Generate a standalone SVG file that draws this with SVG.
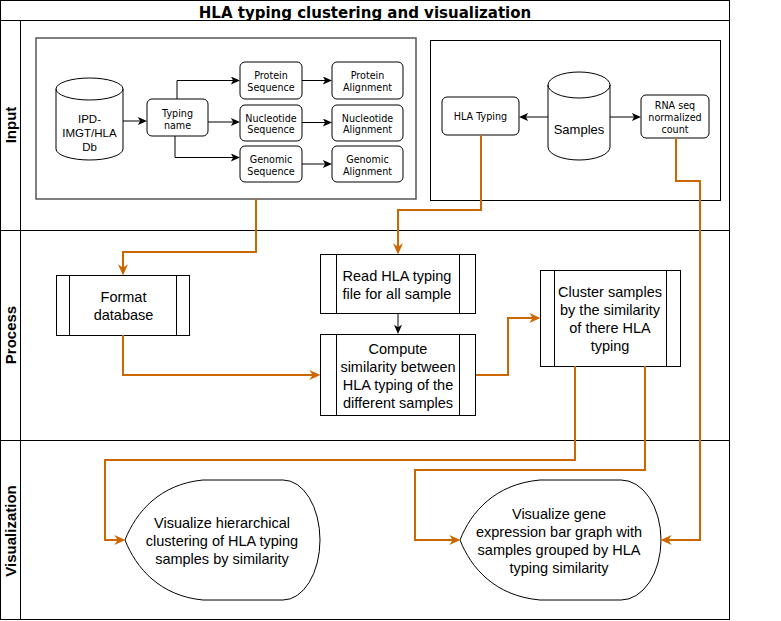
<svg xmlns="http://www.w3.org/2000/svg" width="781" height="621" viewBox="0 0 781 621">
<style>
.frame{fill:none;stroke:#000;stroke-width:1}
.box{fill:#fff;stroke:#000;stroke-width:1}
.sm{font-family:"DejaVu Sans",Verdana,sans-serif;font-size:9.6px;fill:#000;text-anchor:middle}
.md{font-family:"Liberation Sans",Arial,sans-serif;font-size:11.5px;fill:#000;text-anchor:middle}
.lg{font-family:"Liberation Sans",Arial,sans-serif;font-size:14.5px;fill:#000;text-anchor:middle}
.lane{font-family:"Liberation Sans",Arial,sans-serif;font-size:15px;font-weight:bold;fill:#000;text-anchor:middle}
.title{font-family:"DejaVu Sans",Verdana,sans-serif;font-size:15px;font-weight:bold;fill:#000;text-anchor:middle}
.blk{fill:none;stroke:#000;stroke-width:1;marker-end:url(#ab)}
.org{fill:none;stroke:#cc6600;stroke-width:2;marker-end:url(#ao)}
</style>
<defs>
<marker id="ab" markerUnits="userSpaceOnUse" markerWidth="10" markerHeight="8" refX="4.5" refY="3.5" orient="auto" viewBox="0 0 8 7">
<path d="M0,0 L8,3.5 L0,7 L2,3.5 Z" fill="#000"/>
</marker>
<marker id="ao" markerUnits="userSpaceOnUse" markerWidth="12" markerHeight="10" refX="6" refY="4.5" orient="auto" viewBox="0 0 10 9">
<path d="M0,0 L10,4.5 L0,9 L3,4.5 Z" fill="#cc6600"/>
</marker>
</defs>
<rect x="0" y="0" width="781" height="621" fill="#fff"/>
<g id="pool">
<rect class="frame" x="0.5" y="0.5" width="729" height="619"/>
<line class="frame" x1="0" y1="20.5" x2="730" y2="20.5"/>
<line class="frame" x1="20.5" y1="20" x2="20.5" y2="620"/>
<line class="frame" x1="0" y1="230.5" x2="730" y2="230.5"/>
<line class="frame" x1="0" y1="440.5" x2="730" y2="440.5"/>
<text class="title" x="365" y="18">HLA typing clustering and visualization</text>
<text class="lane" transform="translate(16,125) rotate(-90)">Input</text>
<text class="lane" transform="translate(16,335) rotate(-90)">Process</text>
<text class="lane" transform="translate(16,531) rotate(-90)">Visualization</text>
</g>
<g id="input-left-box"><rect x="36" y="38" width="380" height="161" fill="none" stroke="#555" stroke-width="1.5"/></g>
<g id="input-right-box"><rect class="frame" x="430.5" y="40.5" width="290" height="160"/></g>
<g id="ipd-db">
<path class="box" d="M56,89 A33.5,11 0 0 1 123,89 V149 A33.5,11 0 0 1 56,149 Z"/>
<path class="frame" d="M56,89 A33.5,11 0 0 0 123,89"/>
<text class="md" x="89.5" y="123">IPD-</text>
<text class="md" x="89.5" y="137">IMGT/HLA</text>
<text class="md" x="89.5" y="151">Db</text>
</g>
<g id="typing-name"><rect class="box" x="147" y="99" width="61" height="37" rx="5"/><text class="sm" x="177.5" y="116.5">Typing</text><text class="sm" x="177.5" y="128.5">name</text></g>
<g id="protein-seq"><rect class="box" x="240" y="62" width="62" height="37" rx="5"/><text class="sm" x="271" y="79">Protein</text><text class="sm" x="271" y="91">Sequence</text></g>
<g id="protein-aln"><rect class="box" x="332" y="62" width="71" height="37" rx="5"/><text class="sm" x="367.5" y="79">Protein</text><text class="sm" x="367.5" y="91">Alignment</text></g>
<g id="nucleotide-seq"><rect class="box" x="240" y="105" width="62" height="36" rx="5"/><text class="sm" x="271" y="121.5">Nucleotide</text><text class="sm" x="271" y="133">Sequence</text></g>
<g id="nucleotide-aln"><rect class="box" x="332" y="105" width="71" height="36" rx="5"/><text class="sm" x="367.5" y="121.5">Nucleotide</text><text class="sm" x="367.5" y="133">Alignment</text></g>
<g id="genomic-seq"><rect class="box" x="240" y="146" width="62" height="36" rx="5"/><text class="sm" x="271" y="162.5">Genomic</text><text class="sm" x="271" y="174.5">Sequence</text></g>
<g id="genomic-aln"><rect class="box" x="332" y="146" width="71" height="36" rx="5"/><text class="sm" x="367.5" y="162.5">Genomic</text><text class="sm" x="367.5" y="174.5">Alignment</text></g>
<g id="hla-typing"><rect class="box" x="442" y="97" width="77" height="38" rx="5"/><text class="sm" x="480.5" y="120">HLA Typing</text></g>
<g id="samples">
<path class="box" d="M548,85 A31,13 0 0 1 610,85 V147 A31,13 0 0 1 548,147 Z"/>
<path class="frame" d="M548,85 A31,13 0 0 0 610,85"/>
<text class="md" x="579" y="134" style="font-size:13px">Samples</text>
</g>
<g id="rna-seq"><rect class="box" x="641" y="95" width="68" height="43" rx="5"/><text class="sm" x="675" y="109">RNA seq</text><text class="sm" x="675" y="121">normalized</text><text class="sm" x="675" y="133">count</text></g>
<g id="format-db"><rect class="box" x="56.5" y="275.5" width="133" height="60"/><line class="frame" x1="69.5" y1="275.5" x2="69.5" y2="335.5"/><line class="frame" x1="176.5" y1="275.5" x2="176.5" y2="335.5"/><text class="lg" x="123.5" y="302">Format</text><text class="lg" x="123.5" y="319.5">database</text></g>
<g id="read-hla"><rect class="box" x="320.5" y="254.5" width="155" height="59"/><line class="frame" x1="336.5" y1="254.5" x2="336.5" y2="313.5"/><line class="frame" x1="459.5" y1="254.5" x2="459.5" y2="313.5"/><text class="lg" x="397" y="280.5">Read HLA typing</text><text class="lg" x="397" y="298.5">file for all sample</text></g>
<g id="compute-sim"><rect class="box" x="320.5" y="334.5" width="155" height="81"/><line class="frame" x1="336.5" y1="334.5" x2="336.5" y2="415.5"/><line class="frame" x1="459.5" y1="334.5" x2="459.5" y2="415.5"/><text class="lg" x="398" y="354">Compute</text><text class="lg" x="398" y="372">similarity between</text><text class="lg" x="398" y="390">HLA typing of the</text><text class="lg" x="398" y="408">different samples</text></g>
<g id="cluster"><rect class="box" x="540.5" y="270.5" width="140" height="96"/><line class="frame" x1="554.5" y1="270.5" x2="554.5" y2="366.5"/><line class="frame" x1="666.5" y1="270.5" x2="666.5" y2="366.5"/><text class="lg" x="610" y="297">Cluster samples</text><text class="lg" x="610" y="315">by the similarity</text><text class="lg" x="610" y="333">of there HLA</text><text class="lg" x="610" y="351">typing</text></g>
<g id="vis-hier"><path class="box" stroke-width="1.5" d="M125,540 C136,512 160,484 203,480 L283,480 A37,60 0 0 1 283,600 L203,600 C160,596 136,568 125,540 Z"/><text class="lg" x="222" y="528">Visualize hierarchical</text><text class="lg" x="222" y="546">clustering of HLA typing</text><text class="lg" x="222" y="564">samples by similarity</text></g>
<g id="vis-gene"><path class="box" stroke-width="1.5" d="M460,540 C471,512 495,484 540,480 L621,480 A40,60 0 0 1 621,600 L540,600 C495,596 471,568 460,540 Z"/><text class="lg" x="559" y="519">Visualize gene</text><text class="lg" x="559" y="537">expression bar graph with</text><text class="lg" x="559" y="555">samples grouped by HLA</text><text class="lg" x="559" y="573">typing similarity</text></g>
<g id="connectors">
<path class="blk" d="M123,121 H143"/>
<path class="blk" d="M177,99 V80.5 H236"/>
<path class="blk" d="M208,122 H236"/>
<path class="blk" d="M175,136 V157.5 H236"/>
<path class="blk" d="M302,80.5 H328"/>
<path class="blk" d="M302,122.5 H328"/>
<path class="blk" d="M302,164 H328"/>
<path class="blk" d="M548,117 H523"/>
<path class="blk" d="M610,117 H637"/>
<path class="blk" d="M398,314 V330"/>
<path class="org" d="M256,199 V252 H123 V271"/>
<path class="org" d="M481,135 V210 H398 V250"/>
<path class="org" d="M676,138 V181 H700 V540 H665"/>
<path class="org" d="M123,335 V375 H316"/>
<path class="org" d="M476,375 H508 V318 H536"/>
<path class="org" d="M575,366 V460 H105 V540 H121"/>
<path class="org" d="M645,366 V470 H415 V540 H456"/>
</g>
</svg>
